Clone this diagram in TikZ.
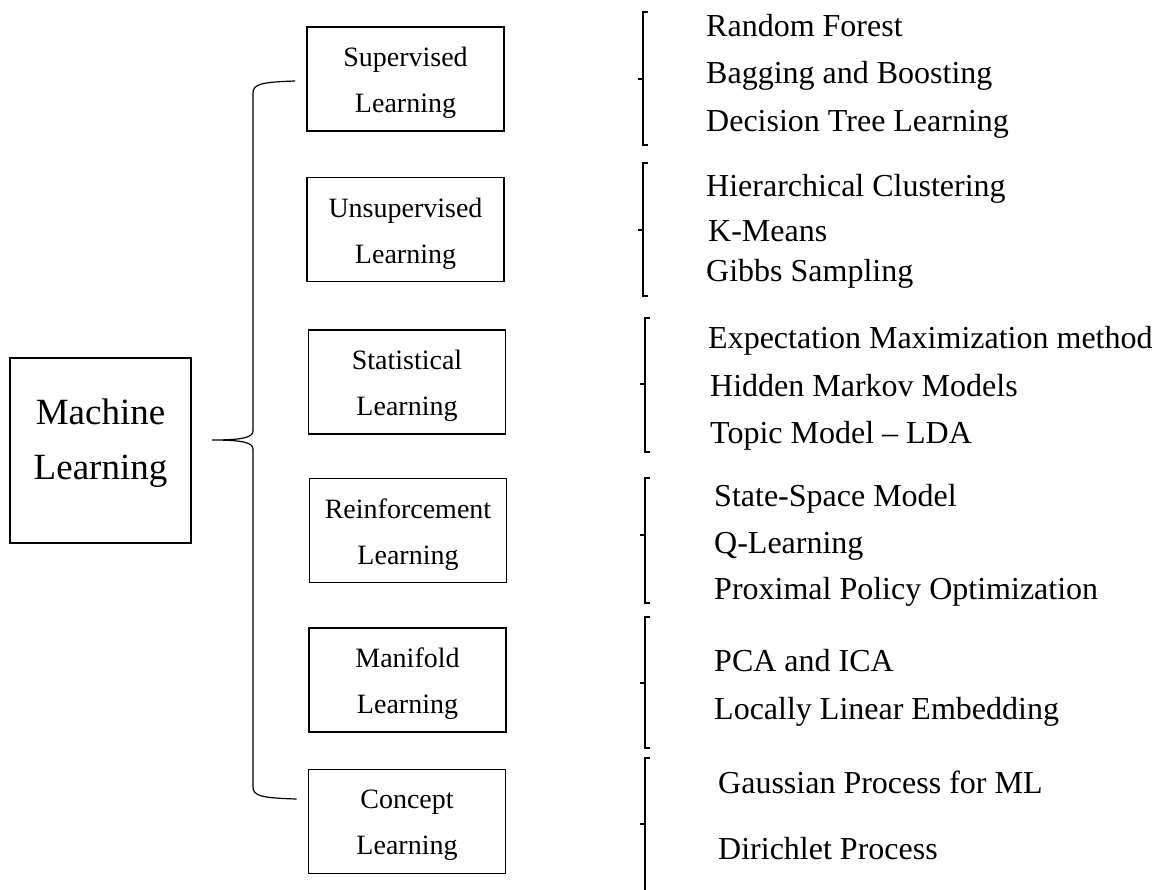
\documentclass[tikz,border=0pt]{standalone}
\usepackage{fontspec}
\setmainfont{Liberation Serif}
\usetikzlibrary{calc}
\newcommand\lbrk[4]{%
  \draw[bracket] (#1+5,#2) -- (#1,#2) -- (#1,#3) -- (#1+5,#3);
  \draw[bracket] (#1,#4) -- (#1-5,#4);}
\begin{document}
\begin{tikzpicture}[x=1pt,y=-1pt,
  box/.style={draw, line width=1.6pt, inner sep=0pt,
    minimum width=197pt, minimum height=104pt},
  lbl/.style={inner sep=0pt, align=center, font=\fontsize{28}{46}\selectfont},
  item/.style={anchor=base west, inner sep=0pt, font=\fontsize{32}{38}\selectfont},
  brace/.style={line width=1.2pt},
  bracket/.style={line width=1.1pt}]
\useasboundingbox (0,0) rectangle (1166,889);
\node[box, minimum width=181pt, minimum height=185pt] (ml) at (100.5,450.5) {};
\node[lbl, font=\fontsize{37}{55}\selectfont] (mll) at ($(ml.center)+(0,-7)$) {Machine\\Learning};
\node[box] (sup) at (405.5,79) {};
\node[box] (uns) at (405.5,229.5) {};
\node[box] (sta) at (407,382) {};
\node[box] (rei) at (408,530.5) {};
\node[box] (man) at (407.5,680) {};
\node[box] (con) at (407,821.5) {};
\node[lbl] (supl) at ($(sup.center)+(0,4)$) {Supervised\\Learning};
\node[lbl] (unsl) at ($(uns.center)+(0,4)$) {Unsupervised\\Learning};
\node[lbl] (stal) at ($(sta.center)+(0,4)$) {Statistical\\Learning};
\node[lbl] (reil) at ($(rei.center)+(0,4)$) {Reinforcement\\Learning};
\node[lbl] (manl) at ($(man.center)+(0,4)$) {Manifold\\Learning};
\node[lbl] (conl) at ($(con.center)+(0,4)$) {Concept\\Learning};
% big brace
\coordinate (tip) at ($(ml.east)+(20,-10.5)$);
\coordinate (top) at ($(sup.west)+(-11,2)$);
\coordinate (bot) at ($(con.west)+(-11,-22.5)$);
\draw[brace] (top) .. controls (262,82) and (253,84) .. (253,93) -- (253,431)
  .. controls (253,438) and (240,440) .. (tip)
  .. controls (240,440) and (253,442) .. (253,449) -- (253,787)
  .. controls (253,796) and (262,798) .. (bot);
% brackets
\lbrk{643}{12}{145}{79}
\lbrk{643}{163}{296}{230}
\lbrk{645}{318}{452}{384}
\lbrk{645}{478}{603}{535}
\lbrk{645}{617}{748}{683}
\lbrk{645}{758}{892}{824}
% items
\node[item] (a1) at (706,36) {Random Forest};
\node[item] (a2) at (706,83) {Bagging and Boosting};
\node[item] (a3) at (706,131) {Decision Tree Learning};
\node[item] (b1) at (706,196) {Hierarchical Clustering};
\node[item] (b2) at (708,241) {K-Means};
\node[item] (b3) at (706,281) {Gibbs Sampling};
\node[item] (c1) at (708,348) {Expectation Maximization method};
\node[item] (c2) at (710,396) {Hidden Markov Models};
\node[item] (c3) at (710,443) {Topic Model – LDA};
\node[item] (d1) at (714,506) {State-Space Model};
\node[item] (d2) at (714,553) {Q-Learning};
\node[item] (d3) at (714,599) {Proximal Policy Optimization};
\node[item] (e1) at (714,671) {PCA and ICA};
\node[item] (e2) at (714,719) {Locally Linear Embedding};
\node[item] (f1) at (718,793) {Gaussian Process for ML};
\node[item] (f2) at (718,859) {Dirichlet Process};
\end{tikzpicture}
\end{document}
